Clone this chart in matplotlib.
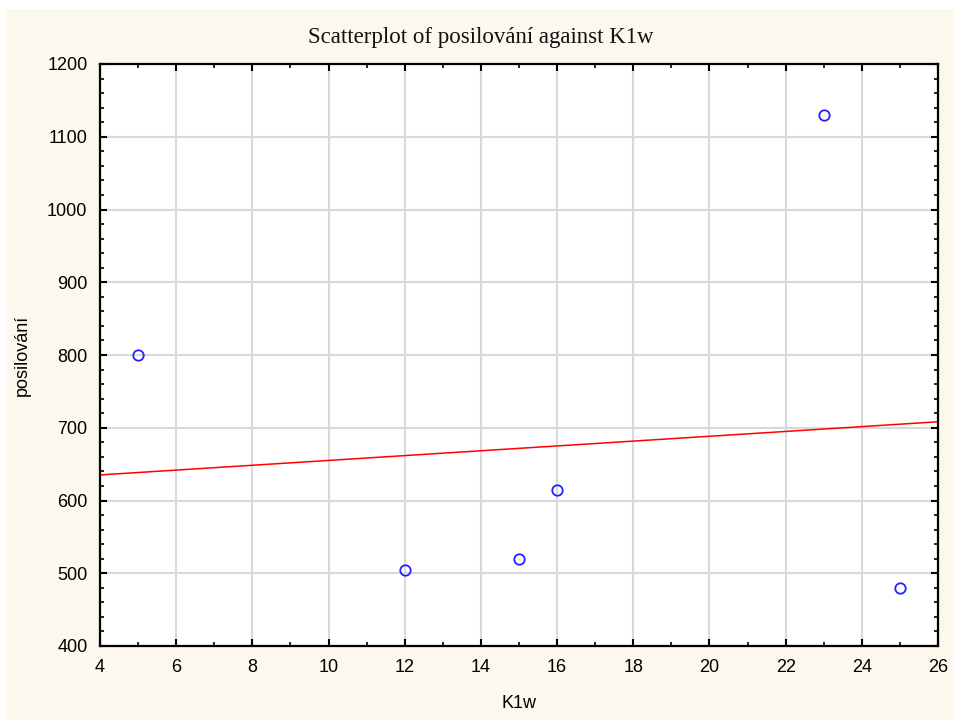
import matplotlib
matplotlib.use("Agg")
import matplotlib.pyplot as plt
import numpy as np
from matplotlib.ticker import MultipleLocator

# data
k1w = [5, 12, 15, 16, 23, 25]
posilovani = [800, 505, 520, 615, 1130, 480]

cream = "#fdf8ee"

fig = plt.figure(figsize=(9.54, 7.2), dpi=100)
fig.patch.set_facecolor("white")
# cream panel (thin white strip on top and left as in the original)
fig.patches.append(plt.Rectangle((6 / 954, 0), 1, 1 - 9 / 720, transform=fig.transFigure,
                                 facecolor=cream, edgecolor="none", zorder=-10))

ax = fig.add_axes([100 / 954, 74 / 720, 838 / 954, 582 / 720])
ax.set_facecolor("white")

ax.set_xlim(4, 26)
ax.set_ylim(400, 1200)
ax.xaxis.set_major_locator(MultipleLocator(2))
ax.xaxis.set_minor_locator(MultipleLocator(1))
ax.yaxis.set_major_locator(MultipleLocator(100))
ax.yaxis.set_minor_locator(MultipleLocator(20))
ax.grid(True, which="major", color="#d9d9d9", linewidth=1.5, zorder=0)
ax.set_axisbelow(True)

ax.tick_params(which="both", direction="in", top=True, right=True, colors="black",
               labelsize=13, labelfontfamily="Liberation Sans")
ax.tick_params(which="major", length=5, width=1.5, pad=9)
ax.tick_params(which="minor", length=3, width=1.2)
for s in ax.spines.values():
    s.set_linewidth(1.6)
    s.set_color("black")

# linear fit
slope, icpt = np.polyfit(k1w, posilovani, 1)
xs = np.array([4, 26])
ax.plot(xs, icpt + slope * xs, color="red", linewidth=1.1, zorder=2)

ax.plot(k1w, posilovani, linestyle="none", marker="o", markersize=7.5,
        markerfacecolor="none", markeredgecolor="#2222ff", markeredgewidth=1.3, zorder=3)

fig.text(481 / 954, 1 - 38 / 720, "Scatterplot of posilování against K1w", fontsize=16.5,
         family="Liberation Serif", ha="center", va="center", color="#111111")
ax.set_xlabel("K1w", fontsize=13, family="Liberation Sans", labelpad=14)
ax.set_ylabel("posilování", fontsize=13, family="Liberation Sans", labelpad=12)

fig.savefig("out.png", dpi=100)
